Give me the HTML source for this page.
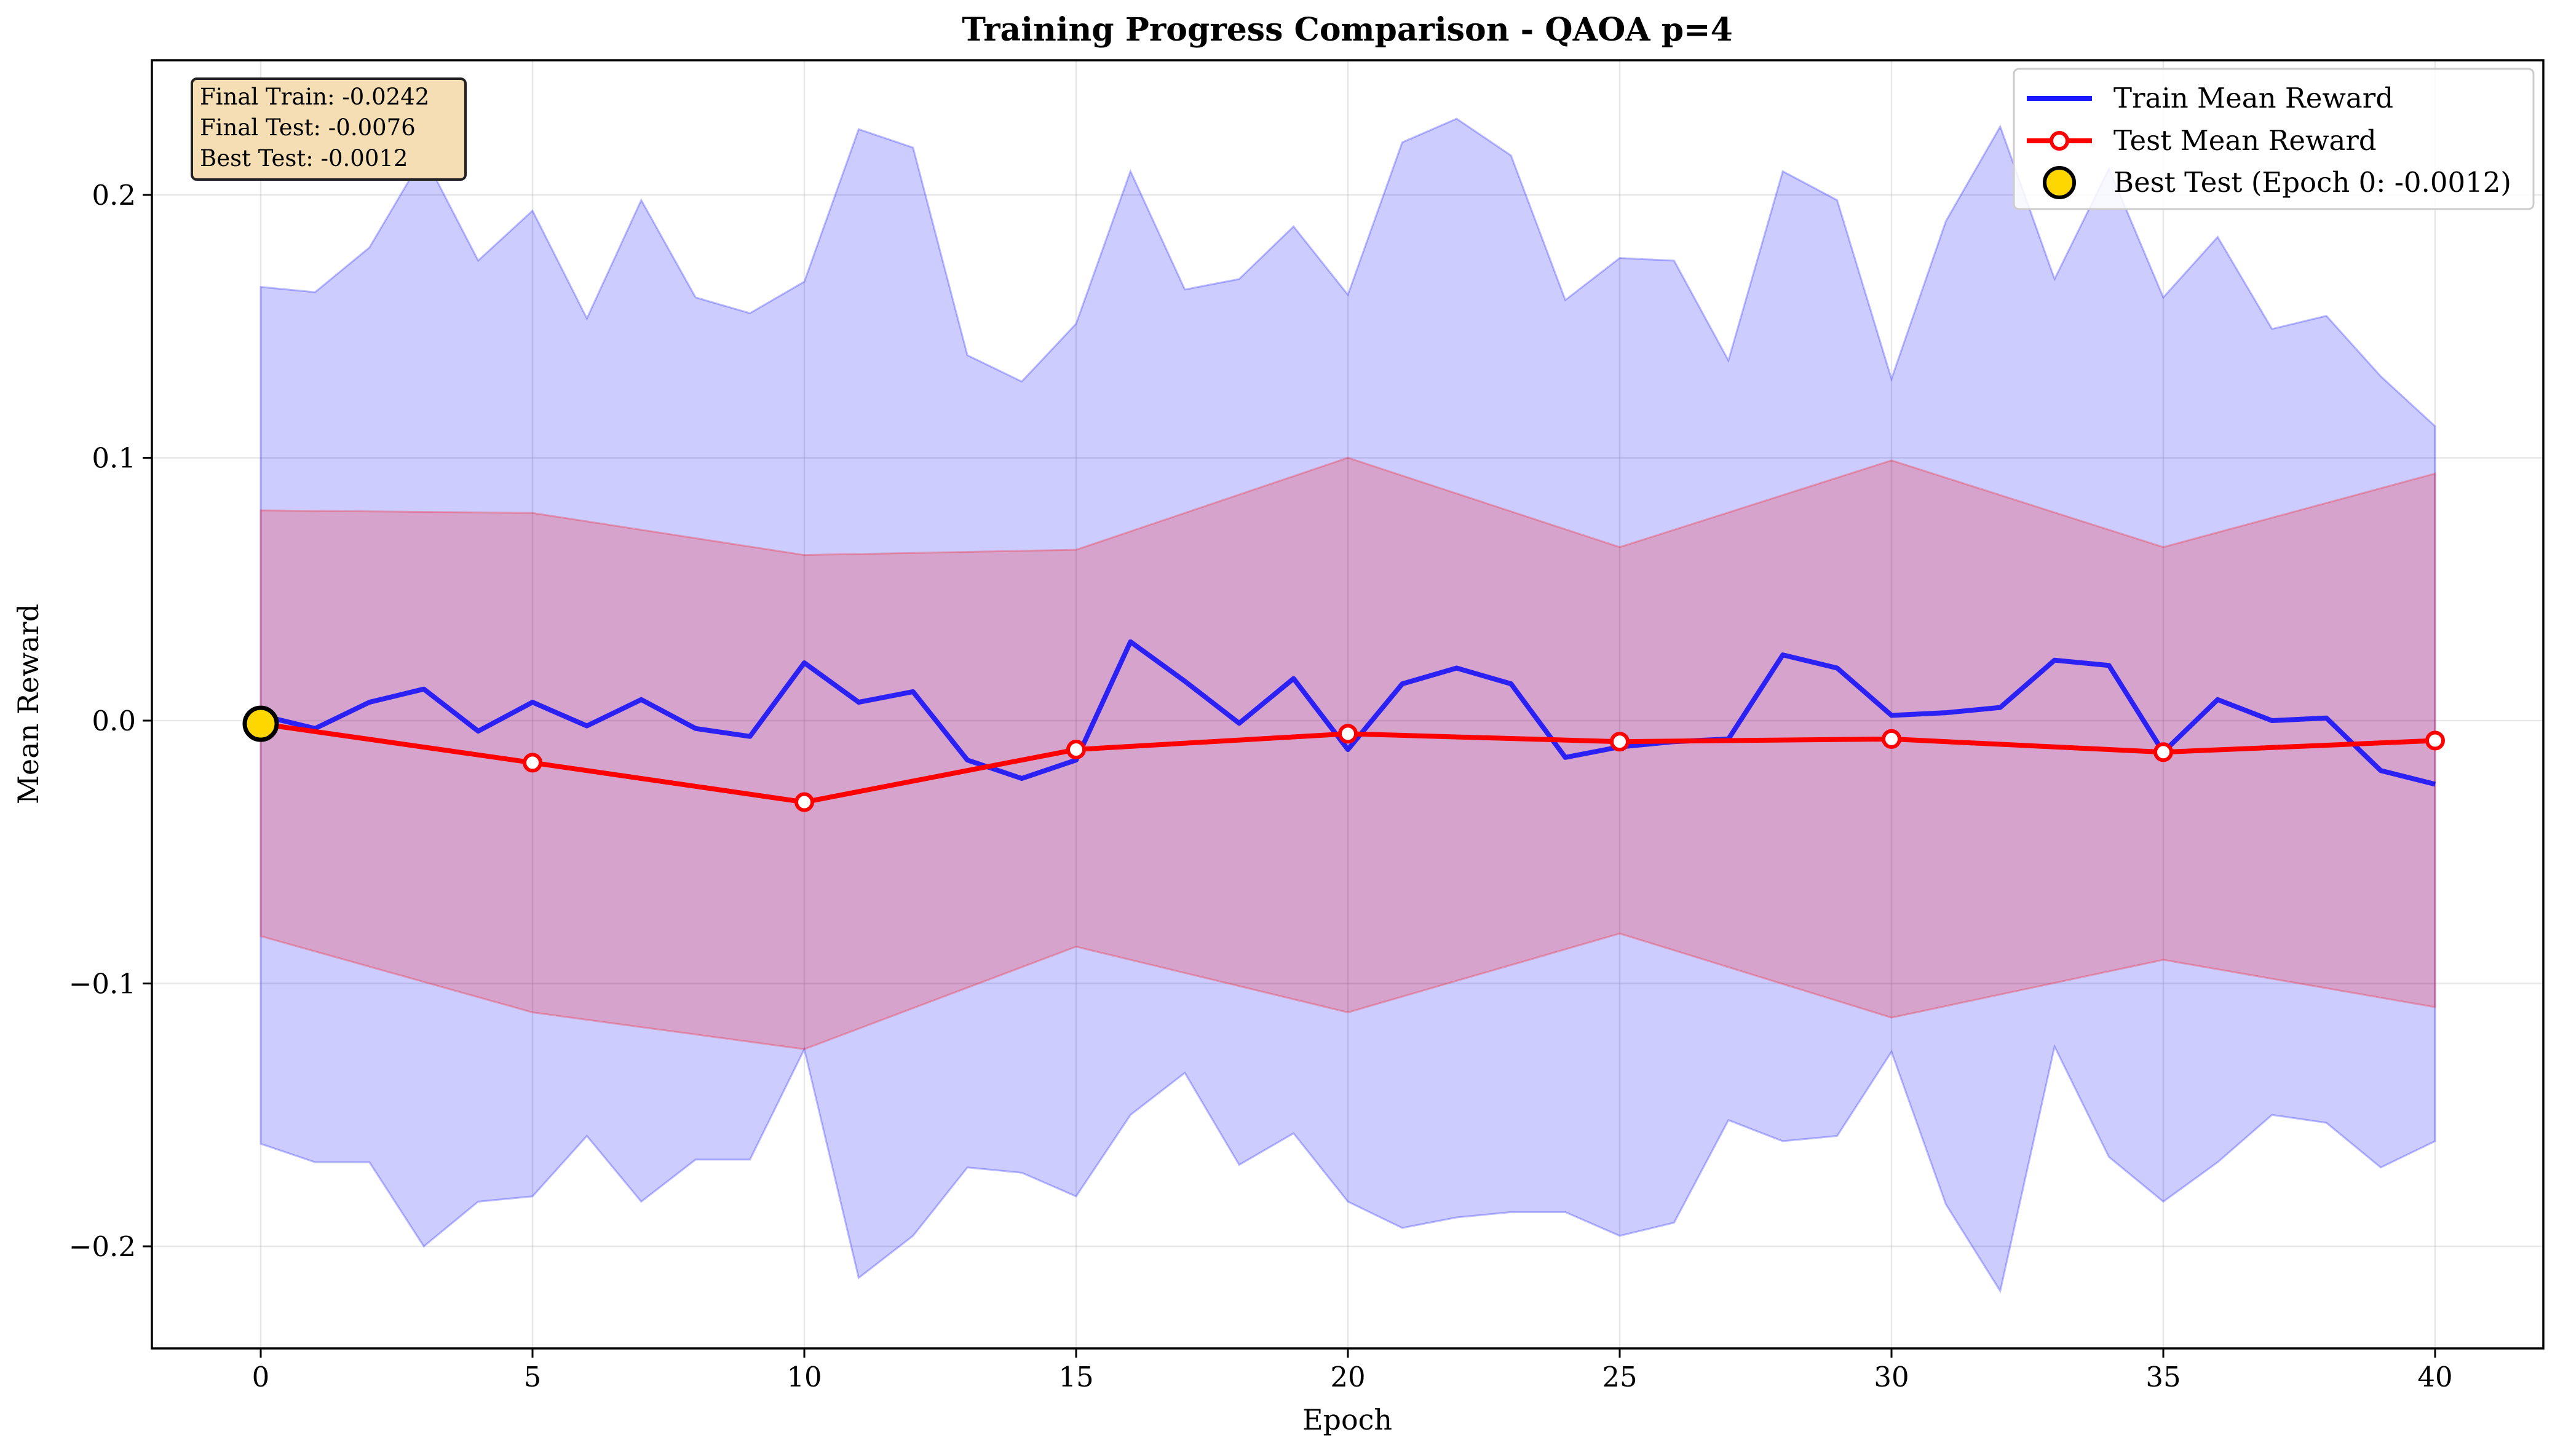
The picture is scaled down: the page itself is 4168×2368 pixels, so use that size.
<!DOCTYPE html>
<html><head><meta charset="utf-8"><style>
html,body{margin:0;padding:0;background:#fff;}
svg{display:block;font-family:"DejaVu Serif","Liberation Serif",serif;}
</style></head><body>
<svg id="chart" width="4168" height="2368" viewBox="0 0 4168 2368" xmlns="http://www.w3.org/2000/svg">
<rect width="4168" height="2368" fill="#fff"/>
<text x="2191" y="66" text-anchor="middle" font-size="52" font-weight="bold">Training Progress Comparison - QAOA p=4</text>
<g id="grid"></g>
<g id="bands"></g>
<g id="lines"></g>
<g id="axes"></g>
<text x="2191" y="2325" text-anchor="middle" font-size="46">Epoch</text>
<text x="62" y="1145" text-anchor="middle" font-size="46" transform="rotate(-90 62 1145)">Mean Reward</text>
<g>
<rect x="312" y="128" width="445" height="164" rx="8" fill="#f5deb3" stroke="#222" stroke-width="4"/>
<text x="325" y="170" font-size="37">Final Train: -0.0242</text>
<text x="325" y="220" font-size="37">Final Test: -0.0076</text>
<text x="325" y="270" font-size="37">Best Test: -0.0012</text>
</g>
<g>
<rect x="3275" y="112" width="845" height="228" rx="8" fill="#fff" fill-opacity="0.85" stroke="#ccc" stroke-width="3"/>
<g>
<line x1="3296" y1="160" x2="3402" y2="160" stroke="#1a1aff" stroke-width="8"/>
<text x="3437" y="175" font-size="45">Train Mean Reward</text></g>
<g>
<line x1="3296" y1="229" x2="3402" y2="229" stroke="#ff0000" stroke-width="8"/>
<circle cx="3349" cy="229" r="13" fill="#fff" stroke="#ff0000" stroke-width="6"/>
<text x="3437" y="244" font-size="45">Test Mean Reward</text></g>
<g>
<circle cx="3349" cy="297" r="24" fill="#ffd700" stroke="#000" stroke-width="6"/>
<text x="3437" y="312" font-size="45">Best Test (Epoch 0: -0.0012)</text></g>
</g>
</svg>
<script>
const trainMean=[0.002,-0.003,0.007,0.012,-0.004,0.007,-0.002,0.008,-0.003,-0.006,0.022,0.007,0.011,-0.015,-0.022,-0.015,0.030,0.015,-0.001,0.016,-0.011,0.014,0.020,0.014,-0.014,-0.010,-0.008,-0.007,0.025,0.020,0.002,0.003,0.005,0.023,0.021,-0.012,0.008,0.000,0.001,-0.019,-0.0242];
const trainUpper=[0.165,0.163,0.180,0.215,0.175,0.194,0.153,0.198,0.161,0.155,0.167,0.225,0.218,0.139,0.129,0.151,0.209,0.164,0.168,0.188,0.162,0.220,0.229,0.215,0.160,0.176,0.175,0.137,0.209,0.198,0.130,0.190,0.226,0.168,0.210,0.161,0.184,0.149,0.154,0.131,0.112];
const trainLower=[-0.161,-0.168,-0.168,-0.200,-0.183,-0.181,-0.158,-0.183,-0.167,-0.167,-0.125,-0.212,-0.196,-0.170,-0.172,-0.181,-0.150,-0.134,-0.169,-0.157,-0.183,-0.193,-0.189,-0.187,-0.187,-0.196,-0.191,-0.152,-0.160,-0.158,-0.126,-0.184,-0.217,-0.124,-0.166,-0.183,-0.168,-0.150,-0.153,-0.170,-0.160];
const testEpochs=[0,5,10,15,20,25,30,35,40];
const testMean=[-0.0012,-0.016,-0.031,-0.011,-0.005,-0.008,-0.007,-0.012,-0.0076];
const testUpper=[0.080,0.079,0.063,0.065,0.100,0.066,0.099,0.066,0.094];
const testLower=[-0.082,-0.111,-0.125,-0.086,-0.111,-0.081,-0.113,-0.091,-0.109];
const xTicks=[0,5,10,15,20,25,30,35,40];
const yTicks=[-0.2,-0.1,0.0,0.1,0.2];
const yTickLabels=["\u22120.2","\u22120.1","0.0","0.1","0.2"];
const bestEpoch=0, bestValue=-0.0012;

const NS="http://www.w3.org/2000/svg";
const L=247,R=4136,T=98,B=2193;
const X=e=>424+e*88.4;
const Y=v=>1172-v*4275;
function mk(tag,attrs,parent){const el=document.createElementNS(NS,tag);for(const k in attrs)el.setAttribute(k,attrs[k]);parent.appendChild(el);return el;}
const grid=document.getElementById('grid'),bands=document.getElementById('bands'),lines=document.getElementById('lines'),axes=document.getElementById('axes');

xTicks.forEach(t=>{
  const g=mk('line',{x1:X(t),x2:X(t),y1:T,y2:B,stroke:'#b0b0b0','stroke-opacity':0.3,'stroke-width':2.5},grid);
  
  
  const tk=mk('line',{x1:X(t),x2:X(t),y1:B,y2:B+15,stroke:'#000','stroke-width':3},axes);
  
  
  const tx=mk('text',{x:X(t),y:B+62,'text-anchor':'middle','font-size':45},axes);
  tx.textContent=t;
  
  
});
yTicks.forEach((t,i)=>{
  const g=mk('line',{x1:L,x2:R,y1:Y(t),y2:Y(t),stroke:'#b0b0b0','stroke-opacity':0.3,'stroke-width':2.5},grid);
  
  
  const tk=mk('line',{x1:L-15,x2:L,y1:Y(t),y2:Y(t),stroke:'#000','stroke-width':3},axes);
  
  
  const tx=mk('text',{x:L-26,y:Y(t)+16,'text-anchor':'end','font-size':45},axes);
  tx.textContent=yTickLabels[i];
  
  
});
function band(xs,up,lo,color,name){
  let d='M'+xs.map((x,i)=>X(x)+','+Y(up[i])).join('L');
  d+='L'+xs.map((x,i)=>X(x)+','+Y(lo[i])).reverse().join('L')+'Z';
  const p=mk('path',{d:d,fill:color,'fill-opacity':0.2,stroke:color,'stroke-opacity':0.25,'stroke-width':3},bands);
  
  
}
const trainEpochs=trainMean.map((_,i)=>i);
band(trainEpochs,trainUpper,trainLower,'#0000ff','train-std-band');
band(testEpochs,testUpper,testLower,'#ff0000','test-std-band');

const tl=mk('polyline',{points:trainEpochs.map((e,i)=>X(e)+','+Y(trainMean[i])).join(' '),fill:'none',stroke:'#0000ff','stroke-opacity':0.8,'stroke-width':8,'stroke-linejoin':'round'},lines);


const rl=mk('polyline',{points:testEpochs.map((e,i)=>X(e)+','+Y(testMean[i])).join(' '),fill:'none',stroke:'#ff0000','stroke-width':8,'stroke-linejoin':'round'},lines);


testEpochs.forEach((e,i)=>{
  const c=mk('circle',{cx:X(e),cy:Y(testMean[i]),r:13,fill:'#fff',stroke:'#ff0000','stroke-width':6},lines);
  
  
});
const bm=mk('circle',{cx:X(bestEpoch),cy:Y(bestValue),r:26,fill:'#ffd700',stroke:'#000','stroke-width':7},lines);



const fr=mk('rect',{x:L,y:T,width:R-L,height:B-T,fill:'none',stroke:'#000','stroke-width':3.5},axes);


</script>
</body></html>
